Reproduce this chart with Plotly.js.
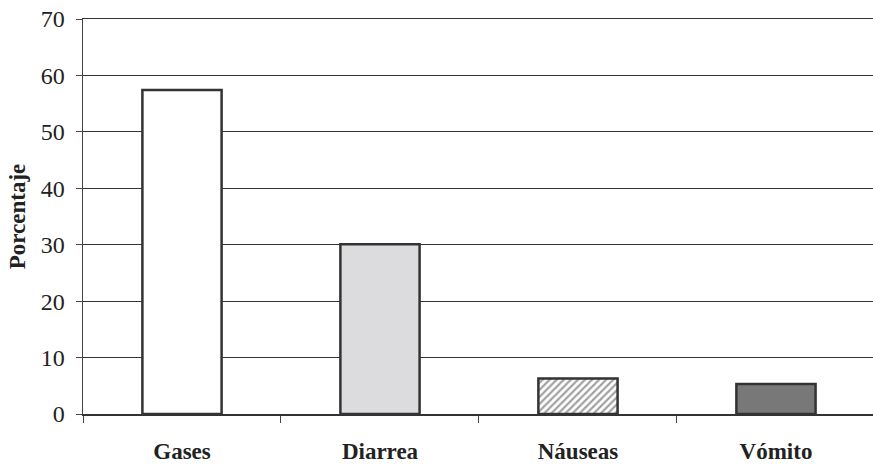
<!DOCTYPE html>
<html>
<head>
<meta charset="utf-8">
<script src="https://cdn.plot.ly/plotly-3.0.1.min.js"></script>
<style>html,body{margin:0;padding:0;background:#fff;}#chart{width:873px;height:464px;}</style>
</head>
<body>
<div id="chart"></div>
<script>
const categories = ["Gases", "Diarrea", "Náuseas", "Vómito"];
const values = [57.4, 30.1, 6.3, 5.3];
const yTicks = [0, 10, 20, 30, 40, 50, 60, 70];
const barColors = ["#ffffff", "#dcdcdf", "#ffffff", "#787878"];
const barPatterns = ["", "", "/", ""];

const trace = {
  type: "bar",
  x: categories,
  y: values,
  width: 0.4,
  marker: {
    color: barColors,
    line: {color: "#333333", width: 2.5},
    pattern: {shape: barPatterns, fgcolor: "#333333", fillmode: "overlay", size: 5, solidity: 0.45}
  },
  hoverinfo: "none"
};

const layout = {
  width: 873,
  height: 464,
  margin: {l: 83, r: 0, t: 19, b: 50},
  paper_bgcolor: "#ffffff",
  plot_bgcolor: "#ffffff",
  showlegend: false,
  font: {family: "Liberation Serif, Times New Roman, serif", color: "#222222"},
  xaxis: {
    range: [-0.5, 3.49],
    showgrid: false,
    showline: true,
    mirror: true,
    linecolor: "#333333",
    linewidth: 1.5,
    ticks: "outside",
    tickson: "boundaries",
    ticklen: 7,
    tickcolor: "#444444",
    tickfont: {size: 23, family: "Liberation Serif, serif", weight: "bold", color: "#222222"},
    ticklabelstandoff: 16,
    zeroline: false
  },
  yaxis: {
    range: [0, 70],
    tickvals: yTicks,
    ticktext: yTicks.map(String),
    showgrid: true,
    gridcolor: "#333333",
    gridwidth: 1,
    showline: true,
    linecolor: "#444444",
    linewidth: 1.5,
    ticks: "outside",
    ticklen: 6,
    tickcolor: "#444444",
    tickfont: {size: 24, family: "Liberation Serif, serif", color: "#222222"},
    ticklabelstandoff: 6,
    zeroline: false,
    title: {text: "Porcentaje", font: {size: 23, family: "Liberation Serif, serif", weight: "bold", color: "#222222"}, standoff: 8}
  }
};

Plotly.newPlot("chart", [trace], layout, {displayModeBar: false, staticPlot: true});
</script>
</body>
</html>
